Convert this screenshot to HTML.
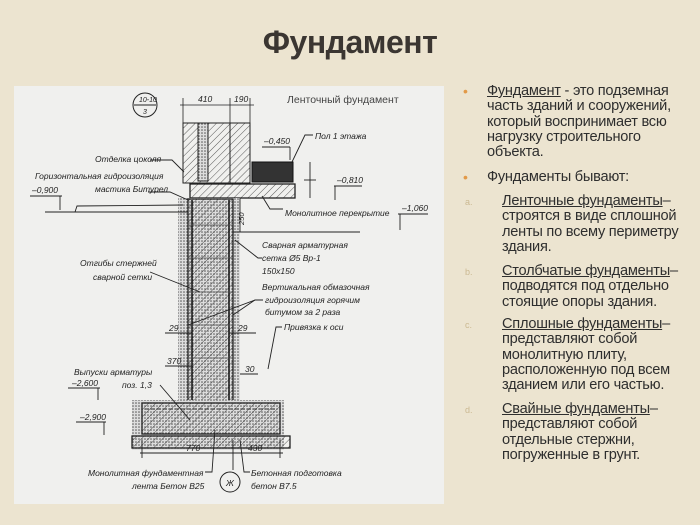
<!DOCTYPE html>
<html><head><meta charset="utf-8"><style>
body{margin:0;width:700px;height:525px;background:#ece4d0;position:relative;overflow:hidden;font-family:"Liberation Sans","Noto Sans CJK SC",sans-serif}
h1{position:absolute;left:0;width:700px;top:24px;margin:0;text-align:center;font-size:32px;font-weight:bold;color:#3b3632;letter-spacing:-0.5px}
.panel{position:absolute;left:14px;top:86px;width:430px;height:418px;background:#f0f0ee}
.t{position:absolute;font-size:14.6px;color:#2e2e2e;line-height:15.3px;letter-spacing:-0.25px;white-space:nowrap}
.u{text-decoration:underline}
.b{position:absolute;color:#e29a48;font-size:14px}
.l{position:absolute;color:#cbb992;font-size:9px}
</style></head><body>
<h1>Фундамент</h1>
<div class="panel"></div>
<svg style="position:absolute;left:0;top:0" width="700" height="525" font-family="Liberation Sans, sans-serif" font-style="italic" font-size="8.5" fill="#222">
<defs>
<pattern id="h" width="5" height="5" patternUnits="userSpaceOnUse" patternTransform="rotate(45)"><line x1="0" y1="0" x2="0" y2="5" stroke="#333" stroke-width="0.8"/></pattern>
<pattern id="s" width="3" height="3" patternUnits="userSpaceOnUse"><rect width="3" height="3" fill="#ddd"/><circle cx="1" cy="1" r="0.8" fill="#555"/></pattern>
</defs>
<text x="287" y="103" font-style="normal" font-size="10.5" fill="#444">Ленточный фундамент</text>
<circle cx="145" cy="105" r="12" fill="none" stroke="#222"/>
<line x1="134" y1="105" x2="156" y2="105" stroke="#222"/>
<text x="139" y="102" font-size="7">10-10</text><text x="143" y="114" font-size="7">3</text>
<g stroke="#222" stroke-width="0.8" fill="none">
<line x1="180" y1="105" x2="254" y2="105"/><line x1="183" y1="98" x2="183" y2="125"/><line x1="230" y1="98" x2="230" y2="125"/><line x1="250" y1="98" x2="250" y2="125"/>
</g>
<text x="198" y="102">410</text><text x="234" y="102">190</text>
<rect x="183" y="123" width="67" height="60" fill="url(#h)" stroke="#222"/>
<rect x="198" y="123" width="10" height="58" fill="url(#s)" stroke="#222"/>
<line x1="230" y1="123" x2="230" y2="183" stroke="#222"/>
<rect x="252" y="162" width="41" height="20" fill="#333" stroke="#111"/>
<rect x="190" y="184" width="105" height="14" fill="url(#h)" stroke="#222" stroke-width="1.3"/>
<rect x="178" y="198" width="62" height="210" fill="url(#s)"/>
<rect x="188" y="199" width="45" height="208" fill="url(#h)" stroke="#222" stroke-width="1.3"/>
<line x1="192" y1="200" x2="192" y2="405" stroke="#111" stroke-width="1.5"/><line x1="229" y1="200" x2="229" y2="405" stroke="#111" stroke-width="1.5"/>
<g stroke="#555" stroke-width="0.8"><line x1="188" y1="225" x2="233" y2="225"/><line x1="188" y1="258" x2="233" y2="258"/><line x1="188" y1="292" x2="233" y2="292"/><line x1="188" y1="325" x2="233" y2="325"/><line x1="188" y1="358" x2="233" y2="358"/></g>
<rect x="132" y="400" width="152" height="50" fill="url(#s)"/>
<rect x="142" y="403" width="138" height="31" fill="url(#h)" stroke="#222" stroke-width="1.3"/>
<line x1="145" y1="409" x2="277" y2="409" stroke="#333" stroke-dasharray="4 2"/>
<rect x="132" y="436" width="158" height="12" fill="url(#h)" stroke="#222" stroke-width="1.3"/>
<g stroke="#222" fill="none" stroke-width="0.9">
<line x1="45" y1="212" x2="188" y2="212"/><polyline points="75,212 77,206 183,205"/>
<line x1="233" y1="232" x2="360" y2="232"/>
<line x1="240" y1="198" x2="240" y2="232"/>
<line x1="140" y1="453" x2="283" y2="453"/><line x1="142" y1="440" x2="142" y2="458"/><line x1="233" y1="440" x2="233" y2="470"/><line x1="280" y1="440" x2="280" y2="458"/>
<line x1="310" y1="162" x2="310" y2="198"/><line x1="304" y1="180" x2="316" y2="180"/>
<line x1="30" y1="196" x2="62" y2="196"/><line x1="60" y1="196" x2="60" y2="210"/>
<line x1="334" y1="186" x2="362" y2="186"/><line x1="335" y1="186" x2="335" y2="200"/>
<line x1="398" y1="214" x2="428" y2="214"/><line x1="400" y1="214" x2="400" y2="230"/>
<line x1="68" y1="388" x2="100" y2="388"/><line x1="98" y1="388" x2="98" y2="400"/>
<line x1="76" y1="422" x2="106" y2="422"/><line x1="104" y1="422" x2="104" y2="435"/>
<line x1="262" y1="147" x2="290" y2="147"/><line x1="290" y1="147" x2="290" y2="160"/>
<polyline points="313,135 305,135 292,162"/>
<polyline points="150,160 172,160 184,172"/>
<polyline points="148,192 170,192 188,200"/>
<polyline points="283,209 270,209 262,196"/>
<polyline points="262,258 258,258 235,240"/>
<polyline points="150,272 200,292"/>
<polyline points="263,300 255,300 233,315"/><line x1="255" y1="300" x2="188" y2="325"/>
<polyline points="282,327 276,327 268,369"/>
<line x1="165" y1="333" x2="192" y2="333"/><line x1="229" y1="333" x2="256" y2="333"/>
<line x1="165" y1="366" x2="192" y2="366"/><line x1="240" y1="374" x2="258" y2="374"/>
<polyline points="160,385 190,420"/>
<polyline points="205,472 212,472 215,430"/><polyline points="250,472 244,472 240,440"/>
</g>
<circle cx="230" cy="482" r="10" fill="#f0f0ee" stroke="#222"/><text x="226" y="486">Ж</text>
<text x="315" y="139">Пол 1 этажа</text>
<text x="264" y="144">–0,450</text>
<text x="95" y="162">Отделка цоколя</text>
<text x="35" y="179">Горизонтальная гидроизоляция</text>
<text x="95" y="192">мастика Битурел</text>
<text x="32" y="193">–0,900</text>
<text x="337" y="183">–0,810</text>
<text x="285" y="216">Монолитное перекрытие</text>
<text x="402" y="211">–1,060</text>
<text x="244" y="225" transform="rotate(-90 244 225)" font-size="7.5">250</text>
<text x="262" y="248">Сварная арматурная</text>
<text x="262" y="261">сетка Ø5 Вр-1</text>
<text x="262" y="274">150х150</text>
<text x="80" y="266">Отгибы стержней</text>
<text x="93" y="280">сварной сетки</text>
<text x="262" y="290">Вертикальная обмазочная</text>
<text x="265" y="303">гидроизоляция горячим</text>
<text x="265" y="315">битумом за 2 раза</text>
<text x="169" y="331">29</text><text x="238" y="331">29</text>
<text x="284" y="330">Привязка к оси</text>
<text x="167" y="364">370</text><text x="245" y="372">30</text>
<text x="74" y="375">Выпуски арматуры</text>
<text x="72" y="386">–2,600</text><text x="122" y="388">поз. 1,3</text>
<text x="80" y="420">–2,900</text>
<text x="186" y="451">770</text><text x="248" y="451">430</text>
<text x="88" y="476">Монолитная фундаментная</text>
<text x="132" y="489">лента Бетон В25</text>
<text x="251" y="476">Бетонная подготовка</text>
<text x="251" y="489">бетон В7.5</text>
</svg>
<span class="b" style="left:463px;top:83px">•</span>
<div class="t" style="left:487px;top:84px"><span class="u">Фундамент</span> - это подземная<br>часть зданий и сооружений,<br>который воспринимает всю<br>нагрузку строительного<br>объекта.</div>
<span class="b" style="left:463px;top:169px">•</span>
<div class="t" style="left:487px;top:170px">Фундаменты бывают:</div>
<span class="l" style="left:465px;top:197px">a.</span>
<div class="t" style="left:502px;top:194px"><span class="u">Ленточные фундаменты</span>–<br>строятся в виде сплошной<br>ленты по всему периметру<br>здания.</div>
<span class="l" style="left:465px;top:267px">b.</span>
<div class="t" style="left:502px;top:264px"><span class="u">Столбчатые фундаменты</span>–<br>подводятся под отдельно<br>стоящие опоры здания.</div>
<span class="l" style="left:465px;top:320px">c.</span>
<div class="t" style="left:502px;top:317px"><span class="u">Сплошные фундаменты</span>–<br>представляют собой<br>монолитную плиту,<br>расположенную под всем<br>зданием или его частью.</div>
<span class="l" style="left:465px;top:405px">d.</span>
<div class="t" style="left:502px;top:402px"><span class="u">Свайные фундаменты</span>–<br>представляют собой<br>отдельные стержни,<br>погруженные в грунт.</div>
</body></html>
